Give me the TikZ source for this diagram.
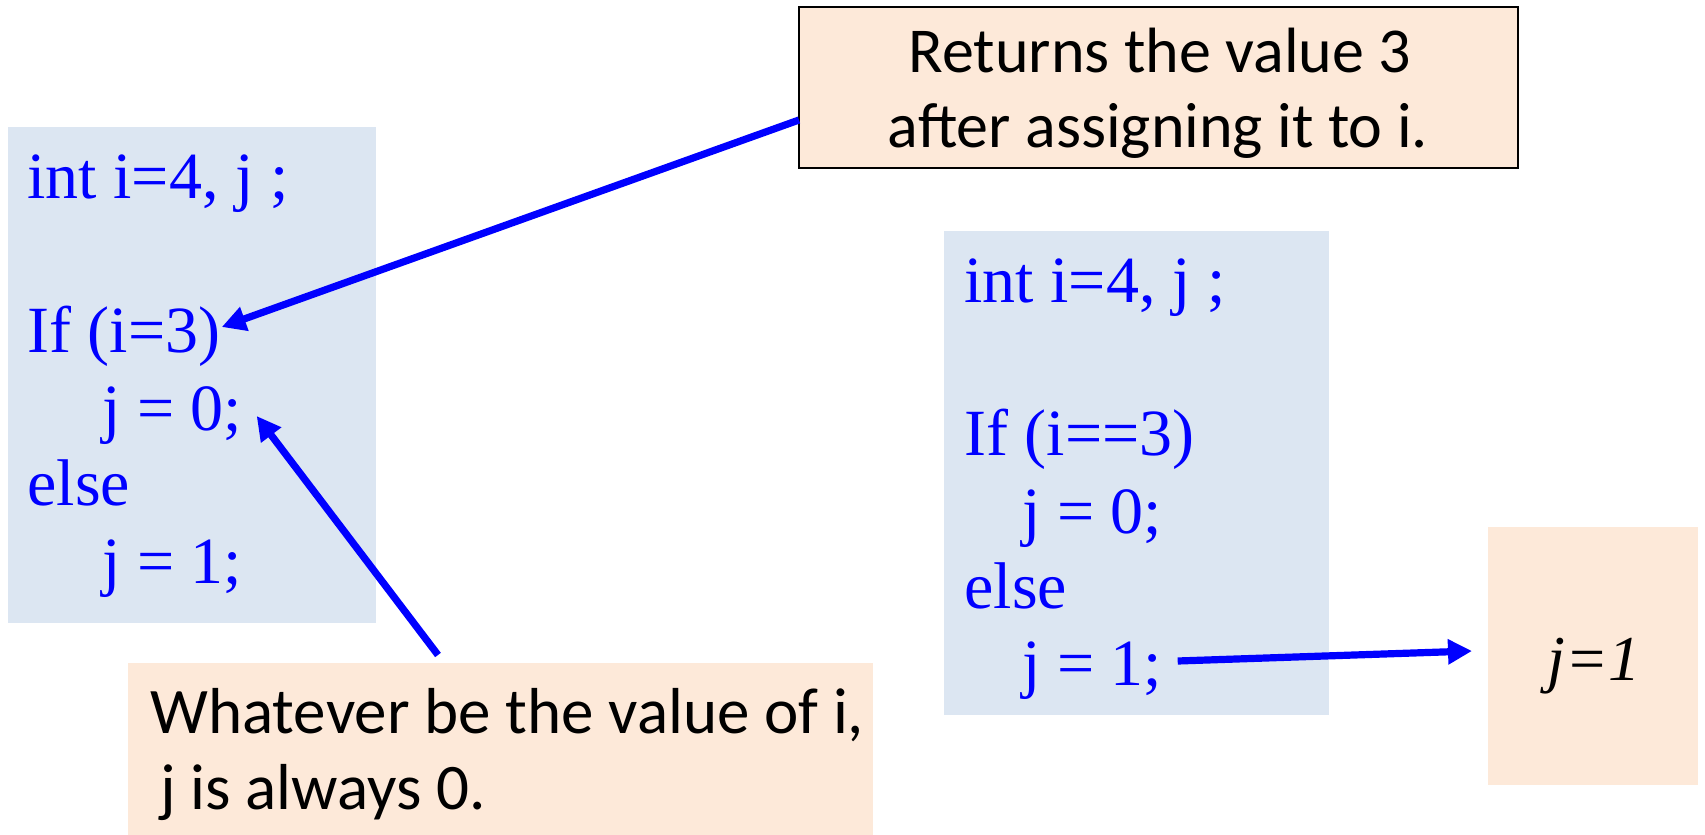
\documentclass[tikz,border=0pt]{standalone}
\usepackage{fontspec}
\setmainfont{Liberation Serif}
\newfontfamily\calfont{Carlito}
\usetikzlibrary{arrows.meta,calc}
\definecolor{codebg}{RGB}{220,230,242}
\definecolor{notebg}{RGB}{253,233,217}
\definecolor{codeblue}{RGB}{0,0,255}
\begin{document}
\begin{tikzpicture}[x=0.5pt,y=-0.5pt,
  box/.style={anchor=north west, inner sep=0pt, outer sep=0pt},
  codeline/.style={anchor=base west, inner sep=0pt, text=codeblue, font=\fontsize{33}{39}\selectfont},
  calline/.style={anchor=base, inner sep=0pt, font=\calfont\fontsize{32}{38}\selectfont},
  noteline/.style={anchor=base west, inner sep=0pt, font=\calfont\fontsize{32.5}{38}\selectfont},
  arr/.style={draw=codeblue, line width=3.6pt, -{Triangle[length=12pt,width=12pt]}}]
\useasboundingbox (0,0) rectangle (1705,835);
% boxes
\node[box, fill=codebg, minimum width=184pt, minimum height=248pt] (leftbox) at (8,127) {};
\node[box, fill=codebg, minimum width=192.5pt, minimum height=242pt] (rightbox) at (944,231) {};
\node[box, fill=notebg, draw=black, line width=1pt, minimum width=359.5pt, minimum height=80.5pt] (callout) at (799,7) {};
\node[box, fill=notebg, minimum width=372.5pt, minimum height=86pt] (note) at (128,663) {};
\node[box, fill=notebg, minimum width=105pt, minimum height=129pt] (result) at (1488,527) {};
% left code
\node[codeline] (lint) at (27,198) {int i=4, j ;};
\node[codeline] (lif) at (27,352) {If (i=3)};
\node[codeline] (lj0) at (102,430) {j = 0;};
\node[codeline] (lelse) at (27,505) {else};
\node[codeline] (lj1) at (102,583) {j = 1;};
% right code
\node[codeline] (rint) at (964,302) {int i=4, j ;};
\node[codeline] (rif) at (964,455) {If (i==3)};
\node[codeline] (rj0) at (1022,533) {j = 0;};
\node[codeline] (relse) at (964,608) {else};
\node[codeline] (rj1) at (1022,685) {j = 1;};
% callout text
\node[calline] (c1) at (1160,72) {Returns the value 3};
\node[calline] (c2) at (1158,147) {after assigning it to i.};
% note text
\node[noteline] (n1) at (150,733) {Whatever be the value of i,};
\node[noteline] (n2) at (160,809) {j is always 0.};
% result
\node[anchor=base, inner sep=0pt, font=\fontsize{32}{38}\selectfont\itshape] (res) at (1594,680) {j=1};
% arrows
\draw[arr] ([yshift=-16.25pt]callout.west) -- ([shift={(1,-25)}]lif.base east);
\draw[arr] ([shift={(310,-8)}]note.north west) -- ([shift={(14,-14)}]lj0.base east);
\draw[arr] ([shift={(15,-24)}]rj1.base east) -- ([shift={(-16,-5)}]result.west);
\end{tikzpicture}
\end{document}
